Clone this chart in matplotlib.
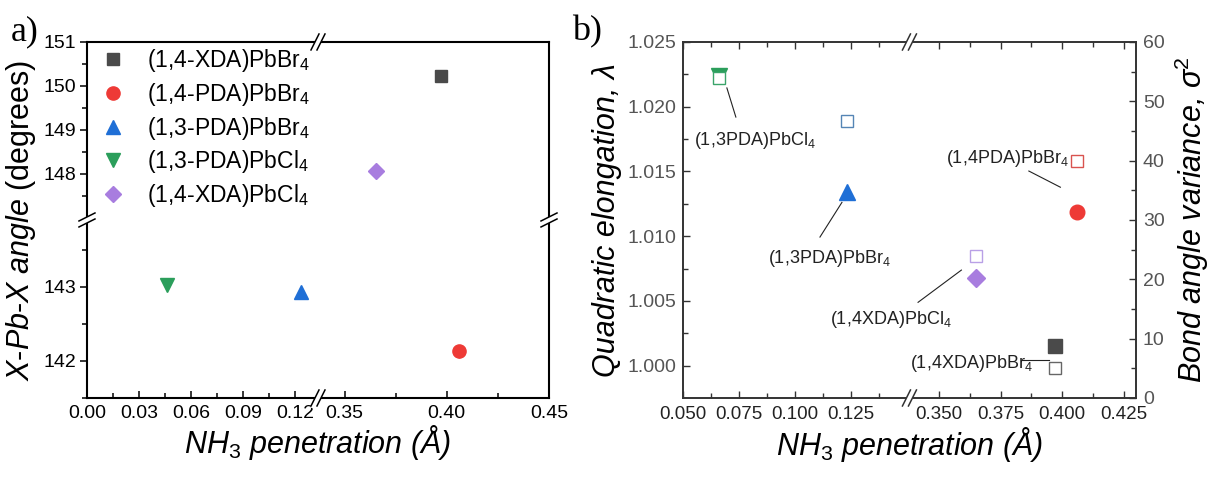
import numpy as np
import matplotlib
matplotlib.use("Agg")
import matplotlib.pyplot as plt
import matplotlib.transforms as mtransforms
from matplotlib.lines import Line2D
from matplotlib.ticker import FixedLocator

plt.rcParams['font.family'] = ['Liberation Sans', 'DejaVu Sans']
plt.rcParams['mathtext.fontset'] = 'custom'
plt.rcParams['mathtext.rm'] = 'Liberation Sans'
plt.rcParams['mathtext.it'] = 'Liberation Sans:italic'
plt.rcParams['mathtext.bf'] = 'Liberation Sans:bold'

# -------------------------------
# Data
# -------------------------------
names_a = ["(1,4-XDA)PbBr$_4$", "(1,4-PDA)PbBr$_4$", "(1,3-PDA)PbBr$_4$",
           "(1,3-PDA)PbCl$_4$", "(1,4-XDA)PbCl$_4$"]
pen_a = [0.397, 0.406, 0.1233, 0.046, 0.3655]
angle_a = [150.22, 142.13, 142.93, 143.03, 148.07]
angle_err = [0.0, 0.09, 0.0, 0.0, 0.0]

pen_b = [0.3972, 0.4062, 0.123, 0.0663, 0.3649]
lam_b = [1.0015, 1.0119, 1.0134, 1.0224, 1.0068]
sigma_b = [5.1, 39.9, 46.6, 54.0, 23.9]
labels_b = ["(1,4XDA)PbBr$_4$", "(1,4PDA)PbBr$_4$", "(1,3PDA)PbBr$_4$",
            "(1,3PDA)PbCl$_4$", "(1,4XDA)PbCl$_4$"]

markers = ['s', 'o', '^', 'v', 'D']
sizes = [8.5, 9.5, 10, 10, 8]
colors = ['#4a4a4a', '#ee3a36', '#1f6fd6', '#2b9e5b', '#a87ddf']
open_colors = ['#666666', '#d9534f', '#5585b5', '#3aa46a', '#b9a0e6']

xa_ticks = [0.0, 0.03, 0.06, 0.09, 0.12, 0.35, 0.40, 0.45]
xa_minor = [0.015, 0.045, 0.075, 0.105, 0.375, 0.425]
ya_ticks = [142, 143, 148, 149, 150, 151]
ya_minor = [141.5, 142.5, 143.5, 147.5, 148.5, 149.5, 150.5]

xb_ticks = [0.050, 0.075, 0.100, 0.125, 0.350, 0.375, 0.400, 0.425]
xb_minor = [0.0625, 0.0875, 0.1125, 0.1375, 0.3625, 0.3875, 0.4125]
yb_ticks = [1.000, 1.005, 1.010, 1.015, 1.020, 1.025]
yb_minor = [1.0025, 1.0075, 1.0125, 1.0175, 1.0225]
sig_ticks = [0, 10, 20, 30, 40, 50, 60]
sig_minor = [5, 15, 25, 35, 45, 55]


def broken(lo, b1, b2, hi):
    xp = np.array([lo, b1, b2, hi])
    fp = np.array([0.0, 0.5, 0.5 + 1e-9, 1.0])
    return (lambda v: np.interp(v, xp, fp)), (lambda v: np.interp(v, fp, xp))


def break_mark(fig, ax, pos, side, color='black'):
    if side == 'bottom':
        pt, d, off = (pos, 0), (4, 8), (3, 0)
    elif side == 'top':
        pt, d, off = (pos, 1), (4, 8), (3, 0)
    elif side == 'left':
        pt, d, off = (0, pos), (8, 4), (0, 3)
    else:
        pt, d, off = (1, pos), (8, 4), (0, 3)
    x0, y0 = ax.transAxes.transform(pt)
    ident = mtransforms.IdentityTransform()
    fig.add_artist(Line2D([x0 - d[0], x0 + d[0]], [y0 - d[1], y0 + d[1]],
                          color='white', lw=4, transform=ident, zorder=10))
    for s in (-1, 1):
        fig.add_artist(Line2D([x0 - d[0] + s * off[0], x0 + d[0] + s * off[0]],
                              [y0 - d[1] + s * off[1], y0 + d[1] + s * off[1]],
                              color=color, lw=1.1, transform=ident, zorder=11))


fig = plt.figure(figsize=(12.13, 4.87), dpi=100)
TICK = 14
LABEL = 22

# -------------------------------
# Panel a
# -------------------------------
axA = fig.add_axes([0.0717, 0.1828, 0.3809, 0.731])
axA.set_xscale('function', functions=broken(0.0, 0.133, 0.337, 0.45))
axA.set_yscale('function', functions=broken(141.5, 143.9, 146.95, 151.0))

for i in range(len(names_a)):
    axA.plot(pen_a[i], angle_a[i], marker=markers[i], ms=sizes[i], color=colors[i],
             ls='none', label=names_a[i], zorder=3)
    if angle_err[i] > 0:
        axA.errorbar(pen_a[i], angle_a[i], yerr=angle_err[i], color=colors[i],
                     lw=1, capsize=0, zorder=2)

axA.set_xlim(0.0, 0.45)
axA.set_ylim(141.5, 151.0)
axA.xaxis.set_major_locator(FixedLocator(xa_ticks))
axA.xaxis.set_minor_locator(FixedLocator(xa_minor))
axA.yaxis.set_major_locator(FixedLocator(ya_ticks))
axA.yaxis.set_minor_locator(FixedLocator(ya_minor))
axA.set_xticklabels(["%.2f" % v for v in xa_ticks])
axA.set_yticklabels([str(v) for v in ya_ticks])
axA.tick_params(axis='x', which='both', direction='in', top=False, labelsize=TICK, pad=5)
axA.tick_params(axis='y', which='both', direction='out', right=False, labelsize=TICK, pad=3)
axA.tick_params(which='major', length=5, width=1.1)
axA.tick_params(which='minor', length=3.5, width=1.1)
for sp in axA.spines.values():
    sp.set_linewidth(1.5)

axA.set_xlabel(r"$\mathit{NH_3}$ penetration (Å)", fontsize=LABEL, style='italic', labelpad=1)
axA.set_ylabel(r"$\mathit{X}$-$\mathit{Pb}$-$\mathit{X}$ $\mathit{angle}$ (degrees)",
               fontsize=LABEL, labelpad=4)
axA.legend(loc='upper left', bbox_to_anchor=(0.0, 1.012), frameon=False,
           fontsize=16.5, handletextpad=0.7, labelspacing=0.3, borderaxespad=0,
           handlelength=1.5)

# -------------------------------
# Panel b
# -------------------------------
axB = fig.add_axes([0.563, 0.1828, 0.3735, 0.731])
axB.set_xscale('function', functions=broken(0.05, 0.151, 0.338, 0.430))
axB2 = axB.twinx()

for i in range(len(pen_b)):
    axB.plot(pen_b[i], lam_b[i], marker=markers[i], ms=sizes[i] + 1, color=colors[i],
             ls='none', zorder=3)
    axB2.plot(pen_b[i], sigma_b[i], marker='s', ms=9, mfc='white', mec=open_colors[i],
              mew=1.0, ls='none', zorder=3)

axB.set_xlim(0.05, 0.430)
axB.set_ylim(0.9975, 1.025)
axB2.set_ylim(0, 60)
axB.xaxis.set_major_locator(FixedLocator(xb_ticks))
axB.xaxis.set_minor_locator(FixedLocator(xb_minor))
axB.yaxis.set_major_locator(FixedLocator(yb_ticks))
axB.yaxis.set_minor_locator(FixedLocator(yb_minor))
axB.set_xticklabels(["%.3f" % v for v in xb_ticks])
axB.set_yticklabels(["%.3f" % v for v in yb_ticks])
axB2.yaxis.set_major_locator(FixedLocator(sig_ticks))
axB2.yaxis.set_minor_locator(FixedLocator(sig_minor))
axB.tick_params(which='both', direction='in', top=True, right=False, labelsize=TICK,
                colors='#333333')
axB.tick_params(axis='y', labelcolor='#555555', pad=5)
axB.tick_params(axis='x', labelcolor='#222222', labelsize=13.5, pad=6)
axB2.tick_params(which='both', direction='in', labelsize=TICK, colors='#333333',
                 labelcolor='#555555', pad=5)
for a in (axB, axB2):
    a.tick_params(which='major', length=5, width=1.0)
    a.tick_params(which='minor', length=3.5, width=1.0)
    for sp in a.spines.values():
        sp.set_linewidth(1.2)
        sp.set_color('#333333')

axB.set_xlabel(r"$\mathit{NH_3}$ penetration (Å)", fontsize=LABEL, style='italic', labelpad=1)
axB.set_ylabel("Quadratic elongation, λ", fontsize=LABEL, style='italic', labelpad=4)
axB2.set_ylabel(r"Bond angle variance, σ$^{2}$", fontsize=LABEL, style='italic', labelpad=6)

# annotations: (text x, text y, line start, line end) in left-axis data units
notes = [
    (3, 0.0548, 1.01759, (0.0696, 1.02145), (0.0736, 1.01920)),
    (2, 0.0879, 1.00850, (0.1209, 1.01261), (0.1111, 1.00993)),
    (1, 0.3529, 1.01622, (0.3865, 1.01503), (0.3993, 1.01378)),
    (4, 0.1154, 1.00377, (0.3415, 1.00489), (0.3591, 1.00738)),
    (0, 0.3384, 1.00041, (0.3834, 1.00041), (0.3947, 1.00041)),
]
for idx, tx, ty, p0, p1 in notes:
    axB.text(tx, ty, labels_b[idx], fontsize=13, ha='left', va='center_baseline',
             color='#222222', zorder=4)
    axB.plot([p0[0], p1[0]], [p0[1], p1[1]], color='#222222', lw=0.8, zorder=4)

# panel tags
fig.text(0.009, 0.9, "a)", fontsize=26, family='Liberation Serif', va='bottom')
fig.text(0.472, 0.9, "b)", fontsize=26, family='Liberation Serif', va='bottom')

# axis break marks
break_mark(fig, axA, 0.5, 'top')
break_mark(fig, axA, 0.5, 'bottom')
break_mark(fig, axA, 0.5, 'left')
break_mark(fig, axA, 0.5, 'right')
break_mark(fig, axB, 0.5, 'top', '#333333')
break_mark(fig, axB, 0.5, 'bottom', '#333333')

fig.savefig("out.png", dpi=100)
